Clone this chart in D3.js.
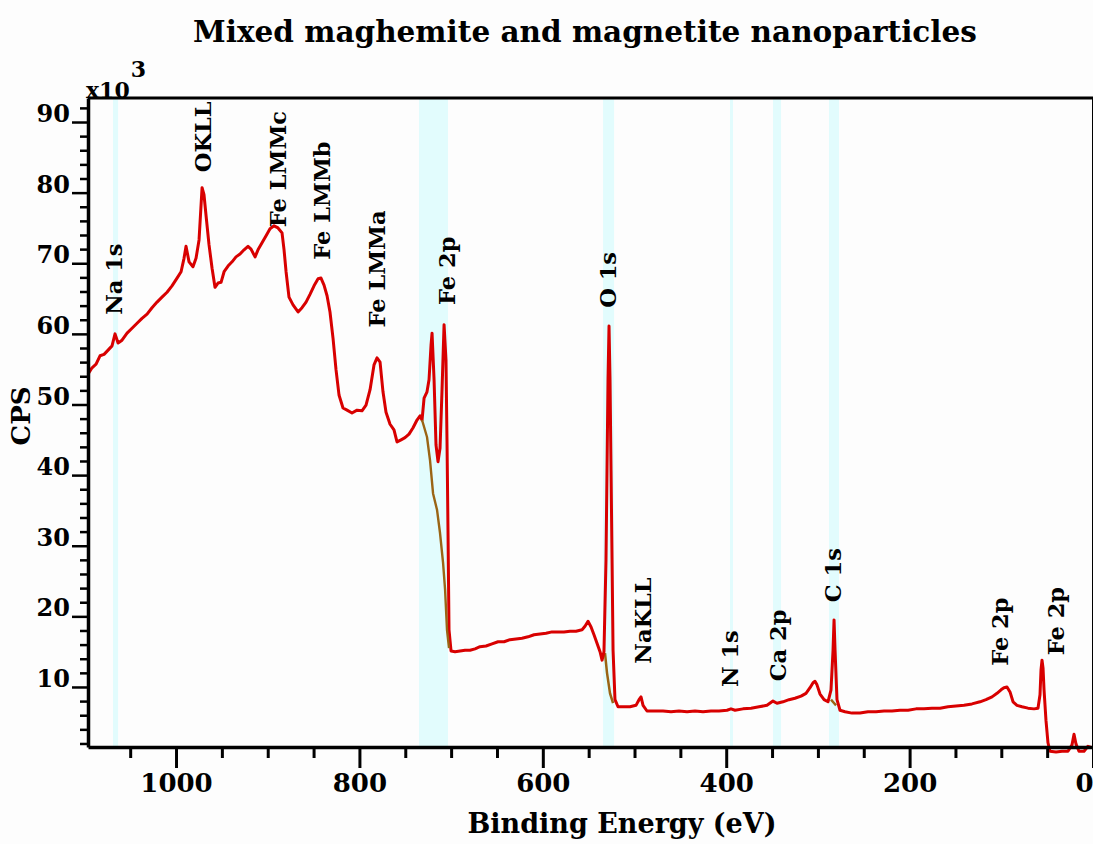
<!DOCTYPE html>
<html>
<head>
<meta charset="utf-8">
<script src="https://cdn.jsdelivr.net/npm/d3@7"></script>
<style>
  html, body { margin: 0; padding: 0; background: #fdfdfd; }
  svg { display: block; }
  text { font-family: "DejaVu Serif", "Liberation Serif", serif; font-weight: bold; fill: #000; }
</style>
</head>
<body>
<svg id="chart" width="1093" height="844"></svg>
<script>
// XPS survey spectrum: binding energy (eV) and counts (x10^3 CPS)
const energy = [
  1096, 1091.6, 1087.2, 1082.9, 1078.5, 1074.1, 1069.8, 1066.5, 1063.2, 1058.9,
  1053.4, 1048.0, 1042.5, 1037.1, 1031.6, 1026.2, 1020.7, 1015.3, 1009.8, 1004.4,
  998.9, 994.5, 991.3, 989.1, 985.8, 981.5, 978.2, 974.9, 971.6, 969.5,
  967.3, 964.0, 960.7, 957.5, 954.2, 950.9, 947.6, 943.3, 938.9, 934.6,
  930.2, 925.8, 921.5, 918.2, 913.8, 910.6, 906.2, 901.8, 897.5, 893.1,
  888.8, 884.4, 882.2, 880.0, 876.8, 872.4, 866.9, 862.6, 858.2, 853.9,
  849.5, 845.1, 841.9, 838.6, 835.3, 832.1, 828.8, 825.5, 822.2, 817.9,
  813.5, 808.1, 802.6, 797.2, 792.8, 788.4, 784.1, 780.8, 777.5, 774.3,
  771.0, 766.6, 762.3, 759.0, 754.6, 750.3, 745.9, 741.5, 737.2, 733.9,
  731.7, 729.5, 726.3, 724.1, 721.9, 720.8, 718.6, 716.5, 714.3, 712.1,
  709.9, 707.7, 705.6, 704.5, 703.4, 702.3, 700.1, 695.7, 690.3, 684.8,
  679.4, 673.9, 668.5, 661.9, 655.4, 648.8, 642.3, 635.8, 629.2, 622.7,
  616.1, 609.6, 603.0, 596.5, 590.0, 583.4, 576.9, 570.3, 563.8, 557.2,
  554.0, 550.7, 547.4, 544.2, 540.9, 537.6, 535.4, 533.3, 531.1, 530.0,
  528.9, 527.8, 526.7, 525.6, 524.5, 523.4, 521.3, 518.0, 511.4, 504.9,
  498.4, 495.1, 492.9, 490.7, 486.4, 477.6, 468.9, 460.2, 451.5, 442.7,
  434.0, 425.3, 416.6, 407.8, 399.1, 394.8, 390.4, 381.7, 372.9, 364.2,
  355.5, 349.0, 344.6, 338.1, 331.5, 325.0, 318.4, 313.0, 308.6, 305.3,
  303.2, 301.0, 297.7, 293.3, 289.0, 285.7, 283.5, 282.4, 281.3, 279.2,
  275.9, 270.4, 262.8, 254.1, 245.4, 236.6, 227.9, 219.2, 210.5, 201.7,
  193.0, 184.3, 175.6, 166.8, 158.1, 149.4, 140.7, 132.0, 123.2, 116.7,
  110.1, 104.7, 100.3, 97.1, 93.8, 90.5, 87.2, 82.9, 77.4, 70.9,
  64.3, 60.0, 57.8, 56.7, 55.6, 54.5, 53.4, 51.3, 49.1, 46.9,
  40.3, 33.8, 27.3, 22.9, 20.7, 18.5, 15.3, 9.8, 5.5, 1.1
];
const counts = [
  54.3, 55.2, 55.7, 56.9, 57.1, 57.7, 58.3, 60.0, 58.7, 59.1,
  60.1, 60.8, 61.5, 62.2, 62.8, 63.7, 64.5, 65.2, 65.9, 66.8,
  67.9, 68.8, 70.7, 72.4, 70.2, 69.5, 70.7, 73.3, 80.7, 79.7,
  76.8, 72.6, 69.3, 66.6, 67.2, 67.3, 68.8, 69.6, 70.2, 70.9,
  71.3, 71.9, 72.4, 72.0, 70.9, 71.9, 72.9, 73.9, 74.9, 75.3,
  75.0, 74.3, 71.9, 68.8, 65.2, 64.1, 63.1, 63.7, 64.5, 65.6,
  66.8, 67.8, 67.9, 66.9, 65.4, 63.1, 59.4, 54.9, 51.3, 49.5,
  49.2, 48.8, 49.2, 49.1, 49.9, 52.1, 55.6, 56.6, 56.0, 51.8,
  48.9, 47.2, 46.4, 44.7, 45.0, 45.3, 45.8, 46.7, 47.8, 48.4,
  47.8, 50.9, 51.8, 53.5, 58.4, 60.1, 53.5, 44.3, 41.9, 43.8,
  52.1, 61.3, 56.3, 45.0, 32.2, 18.1, 15.1, 15.0, 15.1, 15.2,
  15.2, 15.4, 15.7, 15.8, 16.1, 16.4, 16.4, 16.7, 16.8, 16.9,
  17.1, 17.4, 17.5, 17.6, 17.8, 17.8, 17.8, 17.9, 17.9, 18.1,
  18.6, 19.3, 18.5, 17.4, 16.2, 15.0, 13.8, 15.0, 28.0, 40.7,
  53.5, 61.1, 53.5, 40.7, 28.0, 15.2, 8.2, 7.2, 7.2, 7.2,
  7.4, 8.2, 8.6, 7.4, 6.6, 6.6, 6.6, 6.5, 6.6, 6.5,
  6.6, 6.5, 6.6, 6.6, 6.7, 6.9, 6.7, 6.9, 7.0, 7.2,
  7.4, 8.0, 7.7, 7.9, 8.2, 8.4, 8.7, 9.1, 9.9, 10.6,
  10.8, 10.3, 9.0, 8.2, 7.9, 9.6, 15.2, 19.5, 15.2, 8.2,
  6.7, 6.5, 6.3, 6.3, 6.5, 6.5, 6.6, 6.6, 6.7, 6.7,
  6.9, 6.9, 7.0, 7.0, 7.2, 7.3, 7.4, 7.6, 7.9, 8.2,
  8.6, 9.1, 9.6, 9.9, 10.0, 9.3, 7.9, 7.4, 7.2, 7.0,
  6.9, 7.0, 8.9, 12.4, 13.8, 12.7, 9.6, 5.3, 2.1, 0.9,
  0.8, 0.9, 0.9, 1.8, 3.3, 1.9, 0.9, 0.9, 1.6, 1.4
];

// Shirley-type backgrounds under the fitted regions
const bgFe2pEnergy = [731.7, 726.3, 723.0, 719.7, 715.4, 712.1, 708.8, 706.6, 704.5, 702.3];
const bgFe2pCounts = [47.8, 45.4, 42.1, 37.4, 35.1, 31.8, 27.6, 23.8, 18.1, 15.5];
const bgO1sEnergy = [532.2, 530.0, 526.7, 523.4];
const bgO1sCounts = [14.8, 12.0, 9.1, 7.7];
const bgC1sEnergy = [285.7, 283.0, 280.2];
const bgC1sCounts = [8.2, 7.8, 7.4];

// Highlighted energy windows (high, low), eV
const regionHigh = [1068.7, 735.0, 534.3, 395.9, 349.0, 287.9];
const regionLow  = [1063.2, 703.4, 522.3, 392.6, 340.2, 277.0];

// Peak annotations: label, energy (eV), counts at label foot (x10^3)
const peakNames  = ["Na 1s", "OKLL", "Fe LMMc", "Fe LMMb", "Fe LMMa", "Fe 2p", "O 1s",
                    "NaKLL", "N 1s", "Ca 2p", "C 1s", "Fe 2p", "Fe 2p"];
const peakEnergy = [1067.6, 970.5, 888.8, 840.8, 780.8, 704.5, 528.9,
                    490.7, 395.9, 343.5, 283.5, 101.4, 40.3];
const peakLevel  = [62.7, 82.9, 75.1, 70.5, 60.9, 64.1, 63.7,
                    13.3, 10.0, 10.8, 22.0, 13.0, 14.5];

const xMajorTicks = [1000, 800, 600, 400, 200, 0];
const yMajorTicks = [10, 20, 30, 40, 50, 60, 70, 80, 90];

const titleText = "Mixed maghemite and magnetite nanoparticles";
const xTitle = "Binding Energy (eV)";
const yTitle = "CPS";

const svg = d3.select("#chart");
const plotLeft = 88, plotRight = 1093, plotTop = 98, plotBottom = 747;

const x = d3.scaleLinear().domain([1096, 0]).range([plotLeft, plotRight]);
const y = d3.scaleLinear().domain([1.5, 93.4]).range([plotBottom, plotTop]);

// highlighted windows
svg.append("g").selectAll("rect")
  .data(d3.range(regionHigh.length))
  .join("rect")
  .attr("x", i => x(regionHigh[i]))
  .attr("width", i => x(regionLow[i]) - x(regionHigh[i]))
  .attr("y", plotTop)
  .attr("height", plotBottom - plotTop)
  .attr("fill", "#e2fcfd");

// spectrum
const spectrum = d3.zip(energy, counts);
const line = d3.line().x(d => x(d[0])).y(d => y(d[1]));

const bgColor = "#9a6414";
[[bgO1sEnergy, bgO1sCounts], [bgC1sEnergy, bgC1sCounts]].forEach(([e, c]) => {
  svg.append("path")
    .datum(d3.zip(e, c))
    .attr("d", line)
    .attr("fill", "none")
    .attr("stroke", bgColor)
    .attr("stroke-width", 2.5)
    .attr("stroke-linejoin", "round");
});

svg.append("path")
  .datum(spectrum)
  .attr("d", line)
  .attr("fill", "none")
  .attr("stroke", "#d80000")
  .attr("stroke-width", 3)
  .attr("stroke-linejoin", "round");

// Fe 2p background sits on top of the steep red edge
svg.append("path")
  .datum(d3.zip(bgFe2pEnergy, bgFe2pCounts))
  .attr("d", line)
  .attr("fill", "none")
  .attr("stroke", bgColor)
  .attr("stroke-width", 2.4)
  .attr("stroke-linejoin", "round");

// peak labels
svg.append("g").selectAll("text")
  .data(d3.range(peakNames.length))
  .join("text")
  .attr("transform", i => `translate(${x(peakEnergy[i])},${y(peakLevel[i])}) rotate(-90)`)
  .attr("dy", "0.36em")
  .attr("font-size", 22.5)
  .text(i => peakNames[i]);

// frame
svg.append("line")
  .attr("x1", plotRight - 0.5).attr("x2", plotRight - 0.5)
  .attr("y1", plotTop).attr("y2", plotBottom)
  .attr("stroke", "#000").attr("stroke-width", 1);
svg.append("line")
  .attr("x1", plotLeft).attr("x2", plotRight).attr("y1", plotTop).attr("y2", plotTop)
  .attr("stroke", "#000").attr("stroke-width", 3);

// x axis
const xAxis = d3.axisBottom(x)
  .tickValues(xMajorTicks)
  .tickSize(21)
  .tickSizeOuter(0)
  .tickPadding(6)
  .tickFormat(d3.format("d"));
const gx = svg.append("g").attr("transform", `translate(0,${plotBottom})`).call(xAxis);
gx.select(".domain").attr("stroke-width", 3.5);
gx.selectAll(".tick line").attr("stroke-width", 3);
gx.selectAll(".tick text")
  .attr("font-size", 26).attr("font-family", "Liberation Serif").attr("font-weight", "bold")
  .attr("text-anchor", d => d === 0 ? "end" : "middle");

const xMinor = d3.axisBottom(x)
  .tickValues(d3.range(1050, -1, -50).filter(v => !xMajorTicks.includes(v)))
  .tickSize(11).tickSizeOuter(0).tickFormat("");
const gxm = svg.append("g").attr("transform", `translate(0,${plotBottom})`).call(xMinor);
gxm.select(".domain").remove();
gxm.selectAll(".tick line").attr("stroke-width", 3);

// y axis
const yAxis = d3.axisLeft(y)
  .tickValues(yMajorTicks)
  .tickSize(16)
  .tickSizeOuter(0)
  .tickPadding(2)
  .tickFormat(d3.format("d"));
const gy = svg.append("g").attr("transform", `translate(${plotLeft},0)`).call(yAxis);
gy.select(".domain").attr("stroke-width", 3.5);
gy.selectAll(".tick line").attr("stroke-width", 2.5);
gy.selectAll(".tick text")
  .attr("font-size", 24).attr("font-family", "Liberation Serif").attr("font-weight", "bold")
  .attr("dy", "-0.02em");

const yMinor = d3.axisLeft(y)
  .tickValues(d3.range(2, 93, 2).filter(v => v % 10 !== 0))
  .tickSize(8).tickSizeOuter(0).tickFormat("");
const gym = svg.append("g").attr("transform", `translate(${plotLeft},0)`).call(yMinor);
gym.select(".domain").remove();
gym.selectAll(".tick line").attr("stroke-width", 2.5);

// scale multiplier
const mult = svg.append("text").attr("x", 86).attr("y", 98).attr("font-size", 22);
mult.append("tspan").text("x10");
mult.append("tspan").attr("dx", 1).attr("dy", -21).attr("font-size", 22).text("3");

// titles
svg.append("text")
  .attr("x", 585).attr("y", 42)
  .attr("text-anchor", "middle")
  .attr("font-size", 29.5)
  .text(titleText);

svg.append("text")
  .attr("x", 622).attr("y", 833)
  .attr("text-anchor", "middle")
  .attr("font-size", 27)
  .text(xTitle);

svg.append("text")
  .attr("transform", "translate(30,416) rotate(-90)")
  .attr("text-anchor", "middle")
  .attr("font-size", 26)
  .text(yTitle);
</script>
</body>
</html>
